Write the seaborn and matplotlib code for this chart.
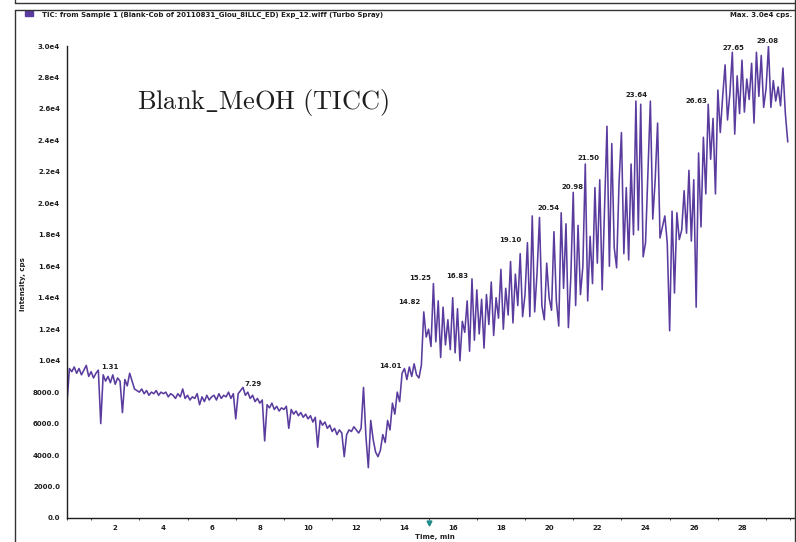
import numpy as np
import pandas as pd
import matplotlib
matplotlib.use("Agg")
import matplotlib.pyplot as plt
import seaborn as sns
from matplotlib.lines import Line2D
from matplotlib.ticker import FixedLocator, FixedFormatter, MultipleLocator

# Total ion current (cps), one scan every 0.1 min starting at 0.0 min
tic_0_10 = [
    7300, 9500, 9300, 9600, 9200, 9500, 9100, 9400, 9700, 9000,
    9300, 8900, 9200, 9400, 6000, 9100, 8700, 9000, 8600, 9100,
    8500, 8900, 8700, 6700, 8800, 8400, 9200, 8700, 8200, 8100,
    8000, 8200, 7900, 8100, 7800, 8000, 7900, 8100, 7800, 8000,
    7900, 8000, 7700, 7900, 7800, 7600, 7900, 7700, 8200, 7600,
    7800, 7500, 7700, 7600, 7900, 7200, 7700, 7400, 7800, 7500,
    7700, 7800, 7500, 7900, 7600, 7800, 7700, 8000, 7600, 7900,
    6300, 7900, 8100, 8300, 7800, 8000, 7600, 7800, 7400, 7600,
    7300, 7500, 4900, 7200, 7000, 7300, 6900, 7100, 6800, 7000,
    6900, 7100, 5700, 6900, 6600, 6800, 6500, 6700, 6400, 6600,
]
tic_10_20 = [
    6300, 6500, 6100, 6400, 4500, 6200, 5900, 6100, 5700, 5900,
    5500, 5700, 5300, 5600, 5400, 3900, 5300, 5600, 5500, 5800,
    5600, 5400, 5700, 8300, 5200, 3200, 6200, 5000, 4200, 3900,
    4300, 5300, 4800, 6200, 5600, 7300, 6600, 8000, 7400, 9200,
    9500, 8800, 9600, 9000, 9800, 9100, 8900, 9700, 13100, 11500,
    12000, 10900, 14900, 11200, 13800, 10200, 13400, 11000, 12600, 10700,
    14000, 10500, 13300, 10000, 12500, 11800, 13800, 10600, 15200, 11300,
    14500, 11700, 13900, 10800, 14200, 12300, 15000, 11600, 14000, 12700,
    15800, 12000, 14600, 12900, 16300, 12400, 15500, 13500, 16800, 12800,
    14200, 17500, 12800, 19200, 13100, 15600, 19100, 13500, 12600, 16200,
]
tic_20_30 = [
    14000, 13200, 18200, 13800, 12200, 19400, 14600, 18700, 12100, 15300,
    20700, 13500, 18600, 14200, 16000, 22500, 13800, 17900, 14900, 21000,
    16200, 21500, 14500, 19800, 24900, 16000, 23800, 17200, 15900, 21300,
    24500, 16800, 21000, 16400, 22500, 18000, 26500, 18300, 26300, 16600,
    17500, 22000, 26500, 19000, 21500, 25100, 17800, 18500, 19200, 17500,
    11900, 19500, 14300, 19400, 17700, 18300, 20800, 18100, 22100, 17600,
    21500, 13400, 23200, 18500, 24200, 20600, 26300, 22800, 25400, 20600,
    27200, 24500, 26800, 28800, 25300, 27000, 29600, 24400, 28100, 25700,
    29100, 25800, 27900, 26600, 28900, 25100, 29600, 26800, 29400, 26100,
    27300, 30000, 26100, 27800, 26500, 27400, 26200, 28600, 25700, 23900,
]
scan_step = 0.1

# Peak retention-time labels
peak_times = [1.31, 7.29, 14.01, 14.82, 15.25, 16.83, 19.10,
              20.54, 20.98, 21.50, 23.64, 26.63, 27.65, 29.08]
peak_texts = ["1.31", "7.29", "14.01", "14.82", "15.25", "16.83", "19.10",
              "20.54", "20.98", "21.50", "23.64", "26.63", "27.65", "29.08"]

x_ticks = [2, 4, 6, 8, 10, 12, 14, 16, 18, 20, 22, 24, 26, 28]
y_ticks = [0, 2000, 4000, 6000, 8000, 10000, 12000, 14000, 16000,
           18000, 20000, 22000, 24000, 26000, 28000, 30000]
y_tick_labels = ["0.0", "2000.0", "4000.0", "6000.0", "8000.0", "1.0e4",
                 "1.2e4", "1.4e4", "1.6e4", "1.8e4", "2.0e4", "2.2e4",
                 "2.4e4", "2.6e4", "2.8e4", "3.0e4"]

tic = np.array(tic_0_10 + tic_10_20 + tic_20_30, dtype=float)
time = np.round(np.arange(len(tic)) * scan_step, 2)
df = pd.DataFrame({"Time, min": time, "Intensity, cps": tic})

sns.set_style("white")
plt.rcParams["font.family"] = ["DejaVu Sans"]
plt.rcParams["mathtext.fontset"] = "cm"

W, H = 796, 542
fig = plt.figure(figsize=(W / 100, H / 100), dpi=100)
ax = fig.add_axes([67 / W, (H - 518) / H, 728 / W, 472 / H])

trace = "#5a3c9e"
ink = "#1e1e1e"
sns.lineplot(data=df, x="Time, min", y="Intensity, cps", ax=ax,
             color=trace, linewidth=1.15, errorbar=None)

ax.set_xlim(0, 30.2)
ax.set_ylim(0, 30000)
for side in ("top", "right"):
    ax.spines[side].set_visible(False)
for side in ("left", "bottom"):
    ax.spines[side].set_color(ink)
    ax.spines[side].set_linewidth(1.0)

ax.xaxis.set_major_locator(FixedLocator(x_ticks))
ax.xaxis.set_minor_locator(MultipleLocator(1))
ax.yaxis.set_major_locator(FixedLocator(y_ticks))
ax.yaxis.set_major_formatter(FixedFormatter(y_tick_labels))
ax.tick_params(axis="both", which="major", direction="out", length=3,
               width=0.8, color=ink, labelsize=5, labelcolor=ink, pad=2)
ax.tick_params(axis="x", which="minor", direction="out", length=1.5,
               width=0.6, color=ink, bottom=True)
for lab in ax.get_xticklabels() + ax.get_yticklabels():
    lab.set_fontweight("bold")

ax.set_xlabel("")
ax.set_ylabel("")
fig.text(435 / W, 1 - 537 / H, "Time, min", ha="center", va="center",
         fontsize=5, fontweight="bold", color=ink)
fig.text(23 / W, 1 - 284 / H, "Intensity, cps", ha="center", va="center",
         rotation=90, fontsize=5, fontweight="bold", color=ink)

# Peak labels anchored at the apex near each retention time
placements = [("left", 2, 0), ("left", 1.5, 0.5), ("right", -2, 0),
              ("right", -3, 5), ("right", -2.5, 2), ("right", -3, 0),
              ("right", -4, 0), ("right", -2, 1), ("center", 0, 2),
              ("center", 2, 2), ("center", 0, 2.5), ("right", -1, 0),
              ("center", 0, 1), ("center", 0, 1.5)]
for t, txt, (ha, dx, dy) in zip(peak_times, peak_texts, placements):
    near = np.abs(time - t) <= 0.06
    apex = tic[near].max()
    ax.annotate(txt, xy=(t, apex), xytext=(dx, dy), textcoords="offset points",
                ha=ha, va="bottom", fontsize=5, fontweight="bold",
                color=ink, annotation_clip=False)

# Retention-time marker below the axis
ax.plot([15.0], [-300], marker="v", markersize=3.5, color="#1f8a8a",
        clip_on=False, linestyle="none")

ax.text(2.9, 26000, r"$\mathrm{Blank\_MeOH\ (TICC)}$",
        fontsize=19, color=ink, ha="left", va="baseline")

# Panel header
fig.text(42 / W, 1 - 15 / H,
         "TIC: from Sample 1 (Blank-Cob of 20110831_Glou_8ILLC_ED) Exp_12.wiff (Turbo Spray)",
         ha="left", va="center", fontsize=5, fontweight="bold", color=ink)
fig.text(792 / W, 1 - 15 / H, "Max. 3.0e4 cps.", ha="right", va="center",
         fontsize=5, fontweight="bold", color=ink)
fig.add_artist(plt.Rectangle((25 / W, 1 - 16 / H), 8 / W, 5 / H,
                             transform=fig.transFigure, color=trace))

# Panel frame lines
def frame_line(x0, y0, x1, y1):
    fig.add_artist(Line2D([x0 / W, x1 / W], [1 - y0 / H, 1 - y1 / H],
                          transform=fig.transFigure, color="#333333", lw=1.0))

frame_line(15, 3, 796, 3)
frame_line(15, 0, 15, 3)
frame_line(15, 10, 795, 10)
frame_line(15, 10, 15, 542)
frame_line(795, 0, 795, 542)

fig.savefig("out.png", dpi=100)
